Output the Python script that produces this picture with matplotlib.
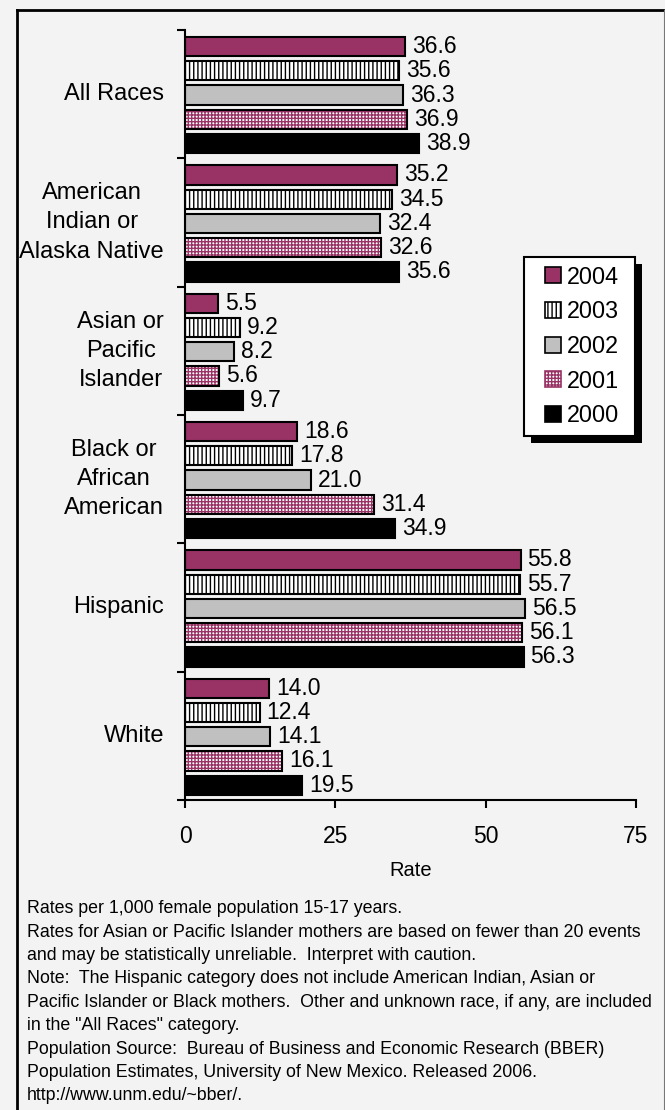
import matplotlib
matplotlib.use("Agg")
import matplotlib.pyplot as plt
from matplotlib.patches import Patch, Rectangle
from matplotlib.lines import Line2D
import matplotlib.transforms as mtransforms

plt.rcParams['font.family'] = ['Liberation Sans', 'DejaVu Sans']
plt.rcParams['hatch.linewidth'] = 1.0

categories = ["All Races", "American\nIndian or\nAlaska Native", "Asian or\nPacific\nIslander",
              "Black or\nAfrican\nAmerican", "Hispanic", "White"]
years = ["2004", "2003", "2002", "2001", "2000"]
values = {
    "2004": [36.6, 35.2, 5.5, 18.6, 55.8, 14.0],
    "2003": [35.6, 34.5, 9.2, 17.8, 55.7, 12.4],
    "2002": [36.3, 32.4, 8.2, 21.0, 56.5, 14.1],
    "2001": [36.9, 32.6, 5.6, 31.4, 56.1, 16.1],
    "2000": [38.9, 35.6, 9.7, 34.9, 56.3, 19.5],
}
xticks = [0, 25, 50, 75]
xlabel = "Rate"
notes = [
    "Rates per 1,000 female population 15-17 years.",
    "Rates for Asian or Pacific Islander mothers are based on fewer than 20 events",
    "and may be statistically unreliable.  Interpret with caution.",
    "Note:  The Hispanic category does not include American Indian, Asian or",
    "Pacific Islander or Black mothers.  Other and unknown race, if any, are included",
    "in the \"All Races\" category.",
    "Population Source:  Bureau of Business and Economic Research (BBER)",
    "Population Estimates, University of New Mexico. Released 2006.",
    "http://www.unm.edu/~bber/.",
]

MAROON = "#993366"
styles = {
    "2004": dict(face=MAROON, hatch=None, hcolor=None),
    "2003": dict(face="white", hatch="||||", hcolor="black"),
    "2002": dict(face="#c0c0c0", hatch=None, hcolor=None),
    "2001": dict(face="white", hatch="+++++", hcolor=MAROON),
    "2000": dict(face="black", hatch=None, hcolor=None),
}

W, H = 665, 1110
BG = "#f3f3f3"
fig = plt.figure(figsize=(W / 100, H / 100), dpi=100, facecolor=BG)

# frame
fig.add_artist(Line2D([17 / W, 17 / W], [0, 1 - 10 / H], color="black", lw=2))
fig.add_artist(Line2D([17 / W, 663 / W], [1 - 10 / H, 1 - 10 / H], color="black", lw=2))
fig.add_artist(Line2D([664 / W, 664 / W], [0, 1 - 10 / H], color="#777777", lw=0.8))

ax = fig.add_axes([185 / W, 1 - 800 / H, (636 - 185) / W, (800 - 30) / H])
ax.set_facecolor("none")
ax.set_xlim(0, 75)
ax.set_ylim(len(categories), 0)

slot = 0.189
bh = 0.150
first = 0.129
for j, yr in enumerate(years):
    st = styles[yr]
    ys = [i + first + j * slot for i in range(len(categories))]
    vals = values[yr]
    if st["hatch"]:
        ax.barh(ys, vals, height=bh, color=st["face"], edgecolor=st["hcolor"],
                hatch=st["hatch"], linewidth=0, zorder=2)
        ax.barh(ys, vals, height=bh, facecolor="none", edgecolor="black",
                linewidth=1.5, zorder=3)
    else:
        ax.barh(ys, vals, height=bh, color=st["face"], edgecolor="black",
                linewidth=1.5, zorder=2)
    for y, v in zip(ys, vals):
        ax.annotate(f"{v:.1f}", (v, y), xytext=(7, 0), textcoords="offset pixels",
                    ha="left", va="center", fontsize=16.5)

for s in ["top", "right"]:
    ax.spines[s].set_visible(False)
for s in ["left", "bottom"]:
    ax.spines[s].set_linewidth(1.5)

ax.set_yticks(range(len(categories) + 1))
ax.set_yticklabels([])
ax.tick_params(axis="y", direction="out", length=5.5, width=1.5)
ax.set_xticks(xticks)
ax.set_xticklabels([str(t) for t in xticks], fontsize=16.5)
ax.tick_params(axis="x", direction="out", length=6, width=1.5, pad=12)
ax.set_xlabel(xlabel, fontsize=14.5, labelpad=9)

trans = mtransforms.blended_transform_factory(fig.transFigure, ax.transData)
for i, c in enumerate(categories):
    ax.text(164 / W, i + 0.5, c, transform=trans, ha="right", va="center",
            multialignment="center", fontsize=17, linespacing=1.42)

# legend box (frame + shadow drawn manually)
lx0, lx1, ly0, ly1 = 524, 635, 257, 436
fig.add_artist(Rectangle((lx0 + 7, H - ly1 - 7), lx1 - lx0, ly1 - ly0, transform=None,
                         facecolor="black", edgecolor="none", zorder=8))
fig.add_artist(Rectangle((lx0, H - ly1), lx1 - lx0, ly1 - ly0, transform=None,
                         facecolor="white", edgecolor="black", linewidth=1.5, zorder=9))
handles = [Patch(facecolor=styles[y]["face"], edgecolor="black",
                 hatch=styles[y]["hatch"], linewidth=1.2) for y in years]
for h, y in zip(handles, years):
    if y == "2001":
        h.set_edgecolor(MAROON)
leg = fig.legend(handles, years, loc="upper left",
                 bbox_to_anchor=(545 / W, 1 - 265.5 / H), fontsize=16.8,
                 frameon=False, handlelength=0.69, handleheight=0.69, handletextpad=0.26,
                 labelspacing=0.5, borderpad=0, borderaxespad=0)
leg.set_zorder(10)

y0 = 908.7
for k, line in enumerate(notes):
    fig.text(27 / W, 1 - (y0 + k * 23.4) / H, line, ha="left", va="center", fontsize=12.8)

fig.savefig("out.png", dpi=100, facecolor=BG)
